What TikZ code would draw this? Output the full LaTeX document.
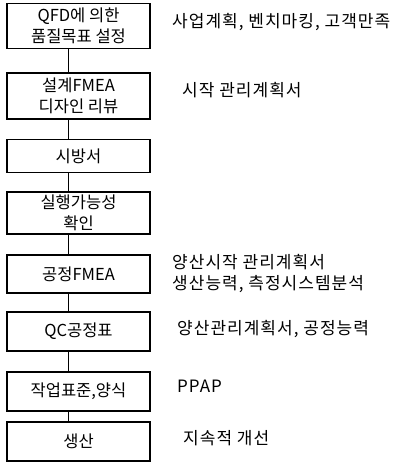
\documentclass[tikz,border=0pt]{standalone}
\usepackage{fontspec}
\setmainfont{Noto Sans CJK KR}
\newfontfamily\notefont[LetterSpace=6]{Noto Sans CJK KR}
\begin{document}
\begin{tikzpicture}[x=1pt,y=-1pt,
  stepbox/.style={draw,line width=1.8pt,minimum width=143pt,inner sep=0pt,align=center,font=\fontsize{16.5}{21}\selectfont},
  note/.style={anchor=west,inner sep=0pt,align=left,font=\notefont\fontsize{17}{21}\selectfont},
  link/.style={line width=1.5pt}]
\useasboundingbox (0,0) rectangle (394,463);
\node[stepbox,minimum height=45pt] (b1) at (78.5,26) {QFD에 의한\\품질목표 설정};
\node[stepbox,minimum height=46pt] (b2) at (78.5,96) {설계FMEA\\디자인 리뷰};
\node[stepbox,minimum height=33pt] (b3) at (78.5,156) {시방서};
\node[stepbox,minimum height=42pt] (b4) at (78.5,213) {실행가능성\\확인};
\node[stepbox,minimum height=38pt] (b5) at (78.5,274) {공정FMEA};
\node[stepbox,minimum height=39pt] (b6) at (78.5,331.5) {QC공정표};
\node[stepbox,minimum height=39pt] (b7) at (78.5,391.5) {작업표준,양식};
\node[stepbox,minimum height=39pt] (b8) at (78.5,441.5) {생산};
\foreach \a/\b in {b1/b2,b2/b3,b3/b4,b4/b5,b5/b6,b6/b7,b7/b8}
  \draw[link] ([xshift=-10pt]\a.south) -- ([xshift=-10pt]\b.north);
\node[note] (t1) at (172,22) {사업계획, 벤치마킹, 고객만족};
\node[note] (t2) at (182,90) {시작 관리계획서};
\node[note] (t5) at (172,274) {양산시작 관리계획서\\생산능력, 측정시스템분석};
\node[note] (t6) at (177,329) {양산관리계획서, 공정능력};
\node[note] (t7) at (177,386) {PPAP};
\node[note] (t8) at (183,438) {지속적 개선};
\end{tikzpicture}
\end{document}
